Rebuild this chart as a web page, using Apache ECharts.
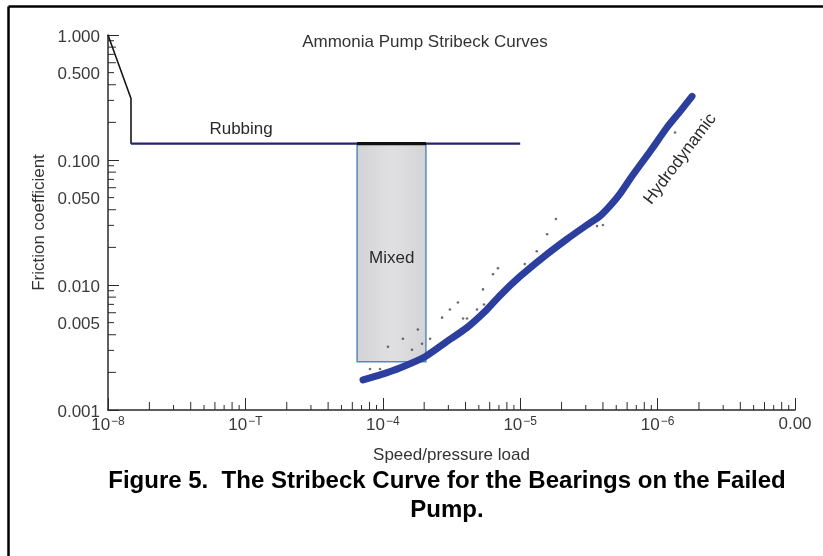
<!DOCTYPE html>
<html><head><meta charset="utf-8">
<script src="https://cdn.jsdelivr.net/npm/echarts@6/dist/echarts.min.js"></script>
<style>html,body{margin:0;padding:0;background:#fff}#c{width:823px;height:556px}</style>
</head><body><div id="c"></div>
<script>
// ---- tick labels ----
const xTickValues = [1e-8, 1e-7, 1e-6, 1e-5, 1e-4, 1e-3];
const xTickBase = ['10', '10', '10', '10', '10', '0.00'];
const xTickExp = ['−8', '−T', '−4', '−5', '−6', ''];
const yTickValues = [0.001, 0.005, 0.01, 0.05, 0.1, 0.5, 1];
const yTickLabels = ['0.001', '0.005', '0.010', '0.050', '0.100', '0.500', '1.000'];

// ---- series values ----
const rubbingStepX = [1e-8, 1.47e-8, 1.47e-8];
const rubbingStepY = [1.0, 0.31, 0.135];
const rubbingFlatX = [1.47e-8, 1e-5];
const rubbingFlatY = [0.135, 0.135];
const mixedX = [6.5e-7, 2.06e-6];
const mixedY = [0.00243, 0.135];
const hydroX = [7.18e-7, 9.55e-7, 1.33e-6, 2.03e-6, 2.84e-6, 4.1e-6, 5.54e-6, 7.13e-6, 9.97e-6, 1.47e-5,
  2.19e-5, 3.06e-5, 3.81e-5, 4.5e-5, 5.32e-5, 6.62e-5, 8.81e-5, 1.17e-4, 1.46e-4, 1.78e-4];
const hydroY = [0.00174, 0.00191, 0.00217, 0.00267, 0.00345, 0.00456, 0.00613, 0.00825, 0.0117, 0.0167,
  0.0233, 0.0302, 0.0356, 0.0429, 0.0536, 0.0762, 0.117, 0.182, 0.245, 0.323];
const dotsX = [8.07e-7, 9.55e-7, 1.09e-6, 1.40e-6, 1.80e-6, 1.93e-6, 1.63e-6, 2.21e-6, 2.70e-6, 3.08e-6,
  3.52e-6, 3.84e-6, 4.10e-6, 4.85e-6, 5.36e-6, 5.45e-6, 6.34e-6, 6.89e-6, 1.08e-5, 1.32e-5,
  1.57e-5, 1.82e-5, 3.62e-5, 4.0e-5, 1.34e-4];
const dotsY = [0.00213, 0.00213, 0.00321, 0.00372, 0.0044, 0.00339, 0.00303, 0.00372, 0.00548, 0.00637,
  0.00724, 0.00539, 0.00539, 0.00637, 0.00922, 0.00698, 0.0122, 0.0136, 0.0147, 0.0186,
  0.0255, 0.0337, 0.0296, 0.0302, 0.166];

// ---- annotation texts ----
const noteTexts = ['Rubbing', 'Mixed', 'Hydrodynamic'];
const noteX = [9.3e-8, 1.16e-6, 1.46e-4];
const noteY = [0.175, 0.0165, 0.102];
const noteRot = [0, 0, 53];

const titleText = 'Ammonia Pump Stribeck Curves';
const xName = 'Speed/pressure load';
const yName = 'Friction coefficient';
const captionLines = ['Figure 5.  The Stribeck Curve for the Bearings on the Failed', 'Pump.'];

const FONT = "'Liberation Sans', Arial, Helvetica, sans-serif";
const zip = (a, b) => a.map((v, i) => [v, b[i]]);

// minor tick positions (2..9 within each decade)
const xMinor = [];
for (let k = -8; k <= -4; k++) for (let m = 2; m <= 9; m++) xMinor.push([m * Math.pow(10, k), 0.001, m % 2 === 0 ? 8 : 5]);
const yMinor = [];
for (let k = -3; k <= -1; k++) for (let m = 2; m <= 9; m++) yMinor.push([1e-8, m * Math.pow(10, k), m % 2 === 0 ? 8 : 6]);

const chart = echarts.init(document.getElementById('c'), null, {renderer: 'canvas'});

function xLabel(v) {
  const e = Math.round(Math.log10(v));
  const i = xTickValues.findIndex(t => Math.round(Math.log10(t)) === e);
  if (i < 0) return '';
  return xTickExp[i] ? '{b|' + xTickBase[i] + '}{s|' + xTickExp[i] + '}' : '{b|' + xTickBase[i] + '}';
}

chart.setOption({
  animation: false,
  backgroundColor: '#fff',
  grid: {left: 108, top: 35, right: 28, bottom: 146, containLabel: false, outerBoundsMode: 'none'},
  xAxis: {
    type: 'log', logBase: 10, min: 1e-8, max: 1e-3,
    axisLine: {lineStyle: {color: '#2a2a2a', width: 1.5}},
    axisTick: {inside: true, length: 12, lineStyle: {color: '#2a2a2a', width: 1}},
    splitLine: {show: false},
    axisLabel: {
      margin: 6, formatter: xLabel,
      rich: {
        b: {fontSize: 17, fontFamily: FONT, color: '#3a3a3a', verticalAlign: 'bottom'},
        s: {fontSize: 12, fontFamily: FONT, color: '#3a3a3a', verticalAlign: 'top', padding: [0, 0, 6, 1]}
      }
    },
    name: xName, nameLocation: 'middle', nameGap: 37,
    nameTextStyle: {fontSize: 17, fontFamily: FONT, color: '#333'}
  },
  yAxis: {
    type: 'log', logBase: 10, min: 0.001, max: 1,
    axisLine: {lineStyle: {color: '#2a2a2a', width: 1.5}},
    axisTick: {inside: true, length: 11, lineStyle: {color: '#2a2a2a', width: 1}},
    splitLine: {show: false},
    axisLabel: {show: false},
    name: yName, nameLocation: 'middle', nameGap: 60,
    nameTextStyle: {fontSize: 17, fontFamily: FONT, color: '#333'}
  },
  series: [
    { // x minor ticks
      type: 'custom', silent: true, z: 1, encode: {x: 0, y: 1},
      data: xMinor,
      renderItem: (params, api) => {
        const p = api.coord([api.value(0), api.value(1)]);
        const len = api.value(2);
        return {type: 'line', shape: {x1: p[0], y1: p[1], x2: p[0], y2: p[1] - len}, style: {stroke: '#2a2a2a', lineWidth: 1}};
      }
    },
    { // y minor ticks
      type: 'custom', silent: true, z: 1, encode: {x: 0, y: 1},
      data: yMinor,
      renderItem: (params, api) => {
        const p = api.coord([api.value(0), api.value(1)]);
        const len = api.value(2);
        return {type: 'line', shape: {x1: p[0], y1: p[1], x2: p[0] + len, y2: p[1]}, style: {stroke: '#2a2a2a', lineWidth: 1}};
      }
    },
    { // y tick labels
      type: 'custom', silent: true, z: 1, encode: {x: 0, y: 1},
      data: yTickValues.map((v, i) => [1e-8, v, i]),
      renderItem: (params, api) => {
        const p = api.coord([api.value(0), api.value(1)]);
        return {type: 'text', x: p[0] - 8, y: p[1] + 2,
          style: {text: yTickLabels[api.value(2)], align: 'right', verticalAlign: 'middle',
            fontSize: 17, fontFamily: FONT, fill: '#3a3a3a'}};
      }
    },
    { // mixed box
      type: 'custom', silent: true, z: 2, encode: {x: [0, 2], y: [1, 3]},
      data: [[mixedX[0], mixedY[0], mixedX[1], mixedY[1]]],
      renderItem: (params, api) => {
        const p0 = api.coord([api.value(0), api.value(3)]);
        const p1 = api.coord([api.value(2), api.value(1)]);
        return {type: 'rect', shape: {x: p0[0], y: p0[1], width: p1[0] - p0[0], height: p1[1] - p0[1]},
          style: {fill: new echarts.graphic.LinearGradient(0, 0, 1, 0, [
              {offset: 0, color: '#d2d3d5'}, {offset: 0.5, color: '#e0e0e2'}, {offset: 1, color: '#d4d4d6'}]),
            stroke: '#5b87b8', lineWidth: 1.5}};
      }
    },
    {
      type: 'line', z: 3, silent: true, symbol: 'none',
      data: zip(rubbingStepX, rubbingStepY),
      lineStyle: {color: '#151515', width: 1.6}
    },
    {
      type: 'line', z: 3, silent: true, symbol: 'none',
      data: zip(rubbingFlatX, rubbingFlatY),
      lineStyle: {color: '#23236e', width: 2.2}
    },
    {
      type: 'line', z: 4, silent: true, symbol: 'none',
      data: [[mixedX[0], mixedY[1]], [mixedX[1], mixedY[1]]],
      lineStyle: {color: '#111', width: 3.2}
    },
    {
      type: 'scatter', z: 5, silent: true, symbol: 'circle', symbolSize: 2.6,
      data: zip(dotsX, dotsY),
      itemStyle: {color: '#4a4a4a'}
    },
    {
      type: 'line', z: 6, silent: true, symbol: 'none', smooth: 0.2,
      data: zip(hydroX, hydroY),
      lineStyle: {color: '#2c3f9e', width: 7, cap: 'round', join: 'round'}
    },
    { // annotations
      type: 'custom', silent: true, z: 7, encode: {x: 0, y: 1},
      data: noteTexts.map((t, i) => [noteX[i], noteY[i], i]),
      renderItem: (params, api) => {
        const p = api.coord([api.value(0), api.value(1)]);
        const i = api.value(2);
        return {type: 'text', x: p[0], y: p[1], rotation: noteRot[i] * Math.PI / 180,
          style: {text: noteTexts[i], align: 'center', verticalAlign: 'middle',
            fontSize: 17, fontFamily: FONT, fill: '#2a2a2a'}};
      }
    }
  ],
  graphic: [
    {type: 'line', shape: {x1: 8.5, y1: 6.5, x2: 823, y2: 6.5}, style: {stroke: '#000', lineWidth: 2.5}},
    {type: 'line', shape: {x1: 8.5, y1: 6.5, x2: 8.5, y2: 556}, style: {stroke: '#000', lineWidth: 2.5}},
    {type: 'text', x: 425, y: 42, style: {text: titleText, align: 'center', verticalAlign: 'middle',
      fontSize: 17, fontFamily: FONT, fill: '#333'}},
    {type: 'text', x: 447, y: 481, style: {text: captionLines[0], align: 'center', verticalAlign: 'middle',
      fontSize: 24, fontWeight: 'bold', fontFamily: FONT, fill: '#000'}},
    {type: 'text', x: 447, y: 510, style: {text: captionLines[1], align: 'center', verticalAlign: 'middle',
      fontSize: 24, fontWeight: 'bold', fontFamily: FONT, fill: '#000'}}
  ]
});
</script>
</body></html>
